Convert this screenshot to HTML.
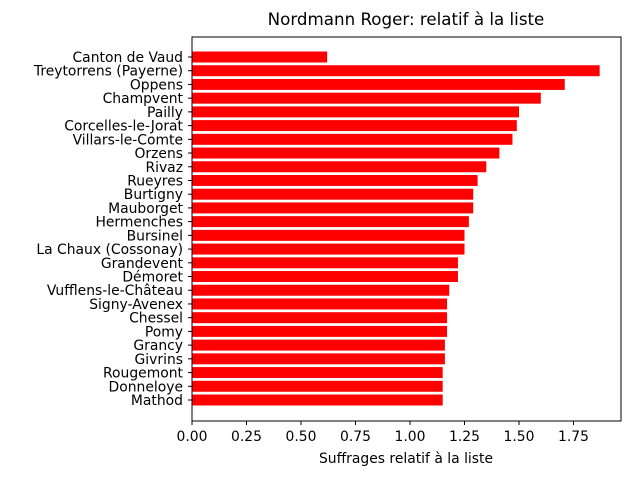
<!DOCTYPE html>
<html><head><meta charset="utf-8"><style>
body{margin:0;background:#fff;font-family:"Liberation Sans","DejaVu Sans",sans-serif;}
svg text{font-family:"DejaVu Sans","Liberation Sans",sans-serif;}
</style></head><body>
<svg id="chart" width="640" height="480">
<text x="406" y="25" font-size="16.7" text-anchor="middle">Nordmann Roger: relatif à la liste</text>
<text x="406" y="463" font-size="13.9" text-anchor="middle">Suffrages relatif à la liste</text>
<g id="bars"></g><g id="yticks"></g><g id="xticks"></g>
<rect x="192" y="37" width="429" height="384" fill="none" stroke="#000" stroke-width="1"/>
</svg>
<script>
const categories=["Canton de Vaud","Treytorrens (Payerne)","Oppens","Champvent","Pailly","Corcelles-le-Jorat","Villars-le-Comte","Orzens","Rivaz","Rueyres","Burtigny","Mauborget","Hermenches","Bursinel","La Chaux (Cossonay)","Grandevent","Démoret","Vufflens-le-Château","Signy-Avenex","Chessel","Pomy","Grancy","Givrins","Rougemont","Donneloye","Mathod"];
const values=[0.62,1.87,1.71,1.60,1.50,1.49,1.47,1.41,1.35,1.31,1.29,1.29,1.27,1.25,1.25,1.22,1.22,1.18,1.17,1.17,1.17,1.16,1.16,1.15,1.15,1.15];
const xTicks=[0,0.25,0.5,0.75,1.0,1.25,1.5,1.75];
const xTickLabels=["0.00","0.25","0.50","0.75","1.00","1.25","1.50","1.75"];
const NS="http://www.w3.org/2000/svg";
const x=v=>192+v*218;
const step=343/(categories.length-1);
const y=i=>57+i*step;
const bh=step*0.8;
const bars=document.getElementById('bars'),yt=document.getElementById('yticks'),xt=document.getElementById('xticks');
categories.forEach((c,i)=>{
 const r=document.createElementNS(NS,'rect');
 r.setAttribute('x',x(0));r.setAttribute('y',y(i)-bh/2);
 r.setAttribute('width',x(values[i])-x(0));r.setAttribute('height',bh);r.setAttribute('fill','#ff0000');
 
 
 bars.appendChild(r);
 const l=document.createElementNS(NS,'line');
 l.setAttribute('x1',188);l.setAttribute('x2',192);l.setAttribute('y1',y(i));l.setAttribute('y2',y(i));l.setAttribute('stroke','#000');
 
 
 yt.appendChild(l);
 const t=document.createElementNS(NS,'text');
 t.setAttribute('x',183);t.setAttribute('y',y(i)+5);t.setAttribute('font-size','13.9');t.setAttribute('text-anchor','end');
 t.textContent=c;
 
 
 yt.appendChild(t);
});
xTicks.forEach((v,i)=>{
 const l=document.createElementNS(NS,'line');
 l.setAttribute('x1',x(v));l.setAttribute('x2',x(v));l.setAttribute('y1',421);l.setAttribute('y2',425);l.setAttribute('stroke','#000');
 
 
 xt.appendChild(l);
 const t=document.createElementNS(NS,'text');
 t.setAttribute('x',x(v));t.setAttribute('y',441);t.setAttribute('font-size','13.9');t.setAttribute('text-anchor','middle');
 t.textContent=xTickLabels[i];
 
 
 xt.appendChild(t);
});
</script>
</body></html>
